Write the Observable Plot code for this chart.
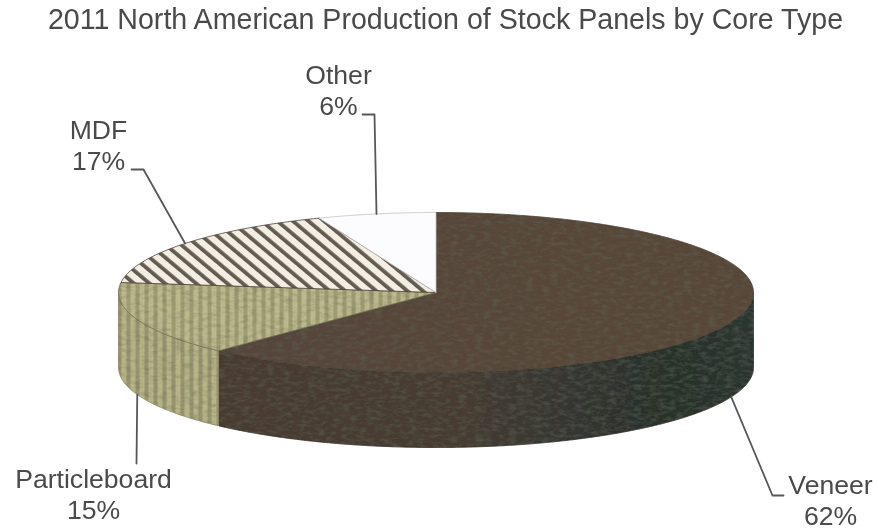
<!DOCTYPE html>
<html>
<head>
<meta charset="utf-8">
<script src="https://cdn.jsdelivr.net/npm/d3@7"></script>
<script src="https://cdn.jsdelivr.net/npm/@observablehq/plot@0.6"></script>
<style>
  html, body { margin: 0; padding: 0; background: #fff; }
  #wrap { width: 878px; height: 531px; overflow: hidden; filter: blur(0.6px); }
  #title { width: 891px; height: 56px; box-sizing: border-box; padding-top: 4px; text-align: center;
           font: 28.6px/30px "Liberation Sans", Arial, sans-serif; color: #4a4a4a; white-space: nowrap; }
  svg { display: block; }
  .mottled { filter: url(#mottle); }
</style>
</head>
<body>
<div id="wrap">
  <div id="title"></div>
  <div id="chart"></div>
</div>
<script>
// ---- data -------------------------------------------------------------
const titleText = "2011 North American Production of Stock Panels by Core Type";
const categories = ["Veneer", "Particleboard", "MDF", "Other"];
const shares = [62, 15, 17, 6];

// ---- layout (pixels inside the SVG) -----------------------------------
const titleH = 56, W = 878, H = 531 - titleH;
const cx = 435.5, cy = 292 - titleH, rx = 317.5, ry = 80, depth = 75;
const fillsTop  = ["url(#veneerTop)", "url(#pbTop)", "url(#mdfTop)", "#fcfcff"];
const fillsSide = ["url(#veneerSide)", "url(#pbSide)"];
// leader ends after the slice edge: elbow and end, in page pixels
const leaderPath = [
  [[772, 495], [783, 495]],
  [[136, 463]],
  [[143, 169], [131, 169]],
  [[374, 114], [362, 114]]
];
// label anchor: centre x and mid-height of the two lines, in page pixels
const labelX = [830, 93, 98, 338];
const labelY = [499, 493, 144, 89];

// ---- helpers ----------------------------------------------------------
const X = px => (px - cx) / rx;
const Y = py => (cy - (py - titleH)) / ry;
const dz = depth / ry;
const ux = t => Math.sin(t), uy = t => Math.cos(t);
const turn = s => s / 100 * 2 * Math.PI;
const arc = (a, b, dy = 0) => {
  const n = Math.max(2, Math.ceil(Math.abs(b - a) / 0.01));
  return d3.range(n + 1).map(i => {
    const t = a + (b - a) * i / n;
    return {x: ux(t), y: uy(t) - dy};
  });
};
let acc = 0;
const slices = categories.map((c, i) => {
  const a = turn(acc); acc += shares[i];
  const b = turn(acc);
  return {c, a, b, mid: (a + b) / 2};
});
const closed = pts => [...pts, pts[0]];
const topPoly = s => closed([{x: 0, y: 0}, ...arc(s.a, s.b)]);
const sidePoly = (a, b) => closed([...arc(a, b), ...arc(b, a, dz)]);

// visible rim: from the right-most point of the ellipse round the front to the left-most
const rimStart = Math.PI / 2, rimEnd = 3 * Math.PI / 2;
const sideParts = [
  sidePoly(rimStart, slices[0].b),
  sidePoly(slices[0].b, rimEnd)
];

// leader lines begin on the slice's mid-angle; the two front slices on the lower rim
const leaders = slices.map((s, i) => {
  const lower = i < 2 ? dz : 0;
  return [{x: ux(s.mid), y: uy(s.mid) - lower}, ...leaderPath[i].map(([px, py]) => ({x: X(px), y: Y(py)}))];
});
const labels = slices.map((s, i) => ({
  x: X(labelX[i]), y: Y(labelY[i]), text: `${s.c}\n${shares[i]}%`
}));

// ---- paint definitions (patterns, gradients, texture) ------------------
const defs = () => {
  const d = d3.create("svg:defs");
  const stripes = (id, w, h, angle, base, band, bandW) => {
    const p = d.append("pattern").attr("id", id).attr("patternUnits", "userSpaceOnUse")
      .attr("width", w).attr("height", h).attr("patternTransform", `rotate(${angle})`);
    p.append("rect").attr("width", w).attr("height", h).attr("fill", base);
    p.append("rect").attr("width", bandW).attr("height", h).attr("fill", band);
  };
  stripes("mdfTop", 10, 10, -50, "#f3eee4", "#645b50", 3.8);
  stripes("pbTop", 9, 10, 0, "#bdb98e", "#a09c72", 4);
  stripes("pbSide", 9, 10, 0, "#b8b488", "#989570", 4);
  d.append("linearGradient").attr("id", "veneerTop")
    .attr("gradientUnits", "userSpaceOnUse").attr("x1", 120).attr("x2", 750).attr("y1", 0).attr("y2", 0)
    .call(g => { g.append("stop").attr("offset", 0).attr("stop-color", "#55453a");
                 g.append("stop").attr("offset", 1).attr("stop-color", "#594639"); });
  const side = d.append("linearGradient").attr("id", "veneerSide")
    .attr("gradientUnits", "userSpaceOnUse").attr("x1", 218).attr("x2", 753).attr("y1", 0).attr("y2", 0);
  [[0, "#483b30"], [0.45, "#473b30"], [0.68, "#333530"], [0.85, "#27302b"], [1, "#2c3631"]]
    .forEach(([o, c]) => side.append("stop").attr("offset", o).attr("stop-color", c));
  const f = d.append("filter").attr("id", "mottle").attr("x", 0).attr("y", 0).attr("width", 1).attr("height", 1);
  f.append("feTurbulence").attr("type", "fractalNoise").attr("baseFrequency", "0.12 0.28")
    .attr("numOctaves", 3).attr("seed", 4).attr("result", "n");
  f.append("feColorMatrix").attr("in", "n").attr("type", "matrix")
    .attr("values", "0 0 0 0 0.12  0 0 0 0 0.14  0 0 0 0 0.10  0 0 0 0.9 -0.36").attr("result", "a");
  f.append("feComposite").attr("in", "a").attr("in2", "SourceAlpha").attr("operator", "in").attr("result", "b");
  f.append("feMerge").call(m => { m.append("feMergeNode").attr("in", "SourceGraphic"); m.append("feMergeNode").attr("in", "b"); });
  return d.node();
};

// ---- chart ------------------------------------------------------------
document.getElementById("title").textContent = titleText;
const xy = {x: "x", y: "y"};
const chart = Plot.plot({
  width: W, height: H, margin: 0,
  style: {background: "transparent", overflow: "visible"},
  x: {domain: [-1, 1], range: [cx - rx, cx + rx], axis: null},
  y: {domain: [-1, 1], range: [cy + ry, cy - ry], axis: null},
  marks: [
    defs,
    ...sideParts.map((pts, i) => Plot.line(pts, {
      ...xy, fill: fillsSide[i], stroke: i ? "#8f8c66" : "#2f2d27", strokeWidth: 0.8,
      className: "mottled"
    })),
    ...slices.map((s, i) => Plot.line(topPoly(s), {
      ...xy, fill: fillsTop[i],
      stroke: i === 3 ? "#c4c4c4" : i === 1 ? "#6f6d54" : "#4b4135", strokeWidth: 0.8,
      className: i < 2 ? "mottled" : "plain"
    })),
    ...leaders.map(pts => Plot.line(pts, {...xy, stroke: "#55585a", strokeWidth: 1.8})),
    Plot.text(labels, {
      ...xy, text: "text", fontSize: 26.6, lineHeight: 1.15, textAnchor: "middle",
      fontFamily: "Liberation Sans", fill: "#4a4a4a"
    })
  ]
});
document.getElementById("chart").appendChild(chart);
</script>
</body>
</html>
